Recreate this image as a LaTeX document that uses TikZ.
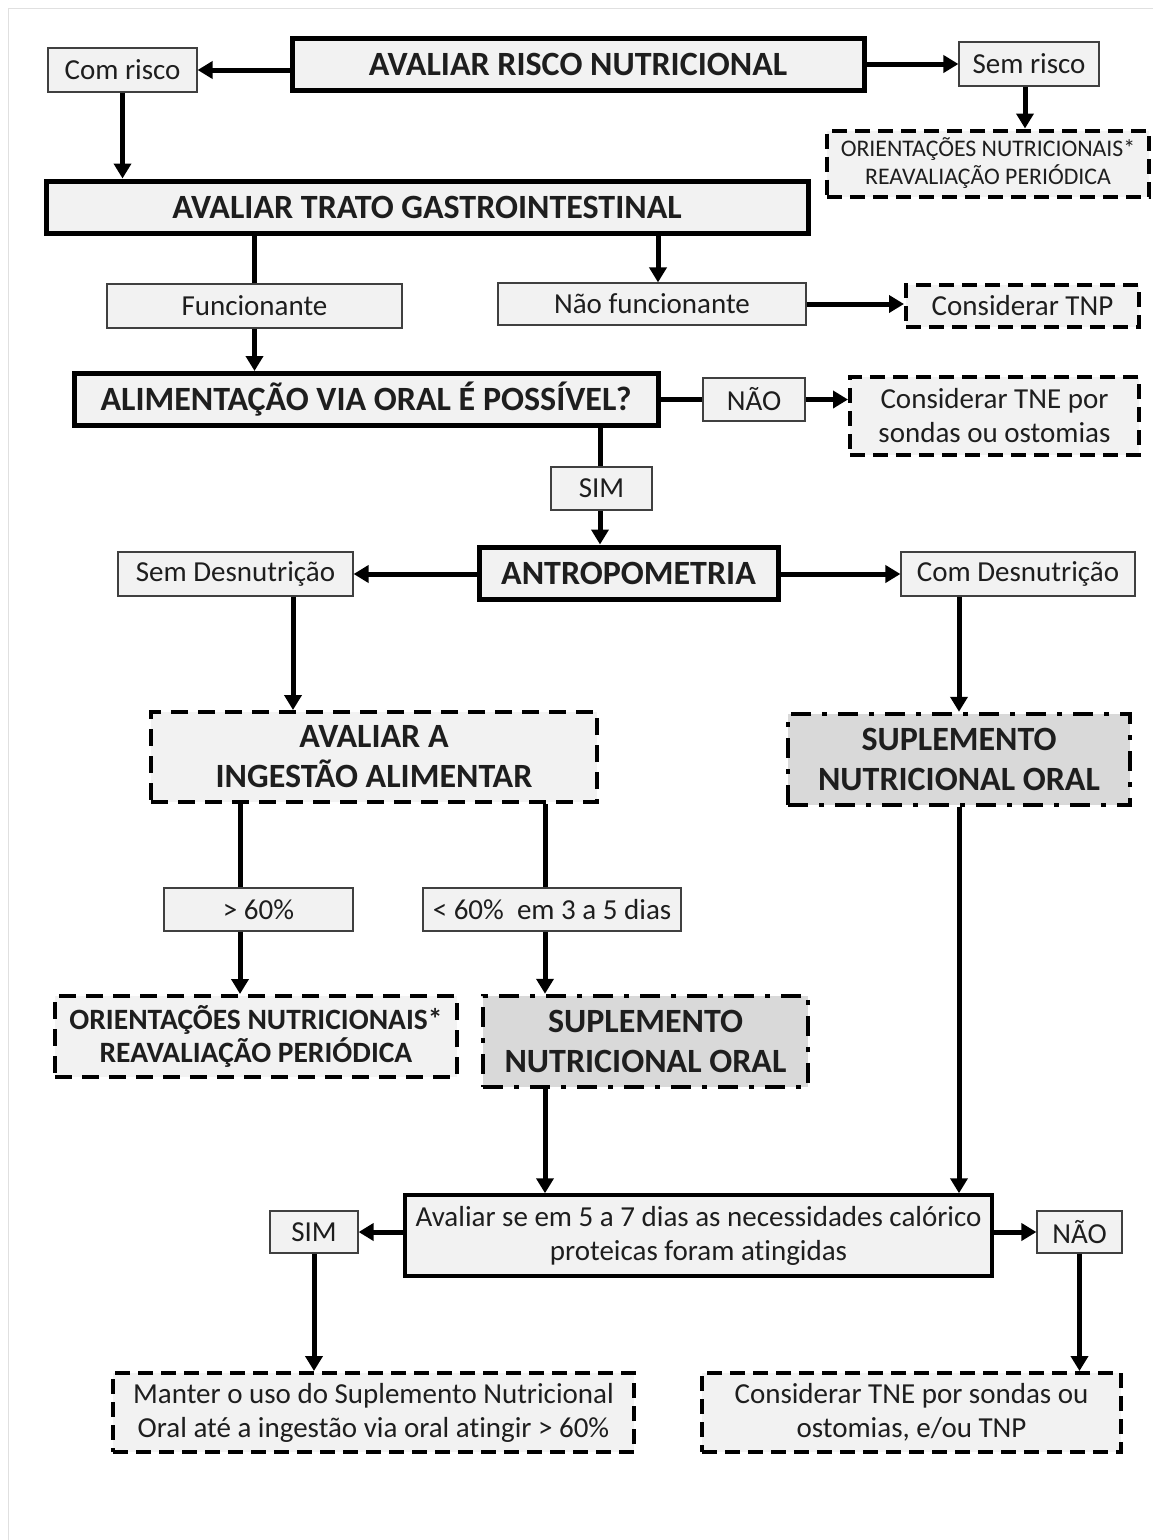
\documentclass[tikz,border=0pt]{standalone}
\usepackage{fontspec}
\setmainfont{Carlito}[Ligatures=NoCommon]
\usetikzlibrary{arrows.meta}
\definecolor{boxfill}{HTML}{F2F2F2}
\definecolor{darkfill}{HTML}{D9D9D9}
\definecolor{txt}{HTML}{1E1E1E}
\begin{document}
\begin{tikzpicture}[x=1pt,y=-1pt,
  base/.style={draw=black, fill=boxfill, text=txt, inner sep=0pt, align=center},
  thickbox/.style={base, line width=5pt, font=\fontsize{34}{38}\selectfont\bfseries},
  midbox/.style={base, line width=3.5pt, font=\fontsize{29}{34}\selectfont},
  thinbox/.style={base, draw=black!75, line width=1.2pt, font=\fontsize{29}{34}\selectfont},
  dashbox/.style={base, line width=4pt, dash pattern=on 15pt off 8pt, font=\fontsize{29}{34}\selectfont},
  dashboldbox/.style={base, line width=4pt, dash pattern=on 17pt off 10pt, font=\fontsize{29.5}{33}\selectfont\bfseries},
  dotdashbox/.style={base, fill=darkfill, line width=4.5pt, dash pattern=on 20pt off 11pt on 5pt off 11pt, font=\fontsize{34}{40}\selectfont\bfseries},
  arr/.style={line width=5pt, -{Triangle[length=15pt,width=17pt]}},
  ln/.style={line width=5pt},
]
\useasboundingbox (0,0) rectangle (1153,1540);
\draw[black!12, line width=1pt] (8,1540) coordinate (fl) -- (8,8) coordinate (fc) -- (1153,8) coordinate (fr);

% row 1
\node[thickbox, minimum width=572, minimum height=52] (risco) at (578,64) {AVALIAR RISCO NUTRICIONAL};
\node[thinbox, minimum width=149, minimum height=44] (comrisco) at (122.5,70) {Com risco};
\node[thinbox, minimum width=140, minimum height=44] (semrisco) at (1029,64) {Sem risco};
\node[dashbox, font=\fontsize{23.8}{28}\selectfont, minimum width=322, minimum height=66] (ori1) at (988,163.5) {ORIENTAÇÕES NUTRICIONAIS*\\REAVALIAÇÃO PERIÓDICA};

% row 2
\node[thickbox, minimum width=762, minimum height=52] (trato) at (427,207) {AVALIAR TRATO GASTROINTESTINAL};
\node[thinbox, minimum width=295, minimum height=44] (func) at (254.5,306) {Funcionante};
\node[thinbox, minimum width=308, minimum height=42] (nfunc) at (652,304) {Não funcionante};
\node[dashbox, minimum width=233, minimum height=42] (tnp) at (1022.5,306) {Considerar TNP};

% row 3
\node[thickbox, minimum width=584, minimum height=52] (alim) at (366,399.5) {ALIMENTAÇÃO VIA ORAL É POSSÍVEL?};
\node[thinbox, minimum width=102, minimum height=43] (nao1) at (754,399.5) {NÃO};
\node[dashbox, minimum width=289, minimum height=78] (tne1) at (994.5,416) {Considerar TNE por\\sondas ou ostomias};
\node[thinbox, minimum width=101, minimum height=43] (sim1) at (601.5,488.5) {SIM};

% row 4
\node[thickbox, minimum width=299, minimum height=52] (antro) at (628.5,573) {ANTROPOMETRIA};
\node[thinbox, minimum width=235, minimum height=44] (semd) at (235.5,574) {Sem Desnutrição};
\node[thinbox, minimum width=234, minimum height=44] (comd) at (1018,574) {Com Desnutrição};

% row 5
\node[dashbox, dash pattern=on 17pt off 10pt, font=\fontsize{34}{40}\selectfont\bfseries, minimum width=446, minimum height=90] (ing) at (374,757) {AVALIAR A\\INGESTÃO ALIMENTAR};
\node[dotdashbox, minimum width=342, minimum height=91] (sup1) at (959,759.5) {SUPLEMENTO\\NUTRICIONAL ORAL};
\node[thinbox, minimum width=189, minimum height=43] (gt) at (258.5,909.5) {> 60\%};
\node[thinbox, minimum width=258, minimum height=43] (lt) at (552,909.5) {< 60\%~~em 3 a 5 dias};

% row 6
\node[dashboldbox, minimum width=402, minimum height=81] (ori2) at (256,1036.5) {ORIENTAÇÕES NUTRICIONAIS*\\REAVALIAÇÃO PERIÓDICA};
\node[dotdashbox, minimum width=325, minimum height=91] (sup2) at (645.5,1041.5) {SUPLEMENTO\\NUTRICIONAL ORAL};

% row 7
\node[midbox, minimum width=587, minimum height=81] (aval) at (698.5,1235.5) {Avaliar se em 5 a 7 dias as necessidades calórico\\proteicas foram atingidas};
\node[thinbox, minimum width=88, minimum height=42] (sim2) at (314,1232) {SIM};
\node[thinbox, minimum width=85, minimum height=42] (nao2) at (1079.5,1232) {NÃO};

% row 8
\node[dashbox, minimum width=521, minimum height=79] (manter) at (373.5,1412.5) {Manter o uso do Suplemento Nutricional\\Oral até a ingestão via oral atingir > 60\%};
\node[dashbox, minimum width=419, minimum height=79] (tne2) at (911.5,1412.5) {Considerar TNE por sondas ou\\ostomias, e/ou TNP};

% connectors
\draw[arr] (risco.west |- comrisco.east) -- (comrisco.east);
\draw[arr] (risco.east) -- (semrisco.west);
\draw[arr] ([xshift=-4pt]semrisco.south) -- ([xshift=-4pt]semrisco.south |- ori1.north);
\draw[arr] (comrisco.south) -- (comrisco.south |- trato.north);
\draw[ln] (func.north |- trato.south) -- (func.north);
\draw[arr] (func.south) -- (func.south |- alim.north);
\draw[arr] ([xshift=6pt]nfunc.north |- trato.south) -- ([xshift=6pt]nfunc.north);
\draw[arr] (nfunc.east) -- (nfunc.east -| tnp.west);
\draw[ln] (alim.east) -- (nao1.west);
\draw[arr] (nao1.east) -- (nao1.east -| tne1.west);
\draw[ln] ([xshift=-1.5pt]sim1.north |- alim.south) -- ([xshift=-1.5pt]sim1.north);
\draw[arr] ([xshift=-1.5pt]sim1.south) -- ([xshift=-1.5pt]sim1.south |- antro.north);
\draw[arr] (antro.west |- semd.east) -- (semd.east);
\draw[arr] (antro.east |- comd.west) -- (comd.west);
\draw[arr] ([xshift=57.5pt]semd.south) -- ([xshift=57.5pt]semd.south |- ing.north);
\draw[arr] (sup1.north |- comd.south) -- (sup1.north);
\draw[ln] ([xshift=-18.5pt]gt.north |- ing.south) -- ([xshift=-18.5pt]gt.north);
\draw[arr] ([xshift=-18.5pt]gt.south) -- ([xshift=-18.5pt]gt.south |- ori2.north);
\draw[ln] ([xshift=-7pt]lt.north |- ing.south) -- ([xshift=-7pt]lt.north);
\draw[arr] ([xshift=-7pt]lt.south) -- ([xshift=-7pt]lt.south |- sup2.north);
\draw[arr] ([xshift=-100.5pt]sup2.south) -- ([xshift=-100.5pt]sup2.south |- aval.north);
\draw[arr] (sup1.south) -- (sup1.south |- aval.north);
\draw[arr] (aval.west |- sim2.east) -- (sim2.east);
\draw[arr] (aval.east |- nao2.west) -- (nao2.west);
\draw[arr] (sim2.south) -- (sim2.south |- manter.north);
\draw[arr] (nao2.south) -- (nao2.south |- tne2.north);
\end{tikzpicture}
\end{document}
